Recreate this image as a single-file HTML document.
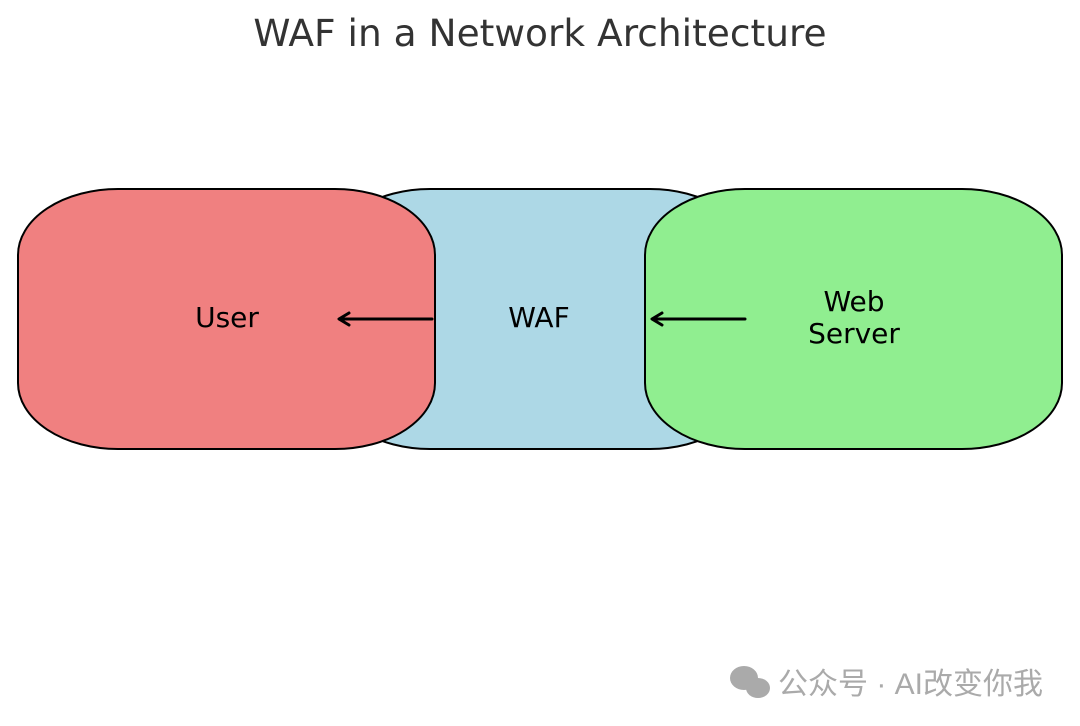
<!DOCTYPE html>
<html><head><meta charset="utf-8"><style>
html,body{margin:0;padding:0;background:#fff;width:1080px;height:726px;overflow:hidden}
</style></head><body>
<svg width="1080" height="726" xmlns="http://www.w3.org/2000/svg" font-family="DejaVu Sans, sans-serif">
<text x="540" y="46" font-size="37.5" fill="#333" text-anchor="middle">WAF in a Network Architecture</text>
<rect x="330" y="189" width="420" height="260" rx="100" ry="66" fill="#add8e6" stroke="#000" stroke-width="2"/>
<rect x="18" y="189" width="417" height="260" rx="100" ry="66" fill="#f08080" stroke="#000" stroke-width="2"/>
<rect x="645" y="189" width="417" height="260" rx="100" ry="66" fill="#90ee90" stroke="#000" stroke-width="2"/>
<text x="227" y="327" font-size="28" text-anchor="middle" fill="#000">User</text>
<text x="539" y="327" font-size="28" text-anchor="middle" fill="#000">WAF</text>
<text x="854" y="311" font-size="28" text-anchor="middle" fill="#000">Web</text>
<text x="854" y="343" font-size="28" text-anchor="middle" fill="#000">Server</text>
<g stroke="#000" stroke-width="3" fill="none" stroke-linecap="round" stroke-linejoin="round">
<line x1="432" y1="319" x2="340" y2="319"/><polyline points="349,313 339,319 349,325"/>
<line x1="745" y1="319" x2="653" y2="319"/><polyline points="662,313 652,319 662,325"/>
</g>
<g fill="#aaa">
<ellipse cx="744" cy="678" rx="14" ry="12"/><ellipse cx="758" cy="688" rx="12" ry="10"/>
</g>
<text x="778" y="694" font-size="30" fill="#aaa" font-family="Liberation Sans, Noto Sans CJK SC, sans-serif">公众号 · AI改变你我</text>
</svg>
</body></html>
